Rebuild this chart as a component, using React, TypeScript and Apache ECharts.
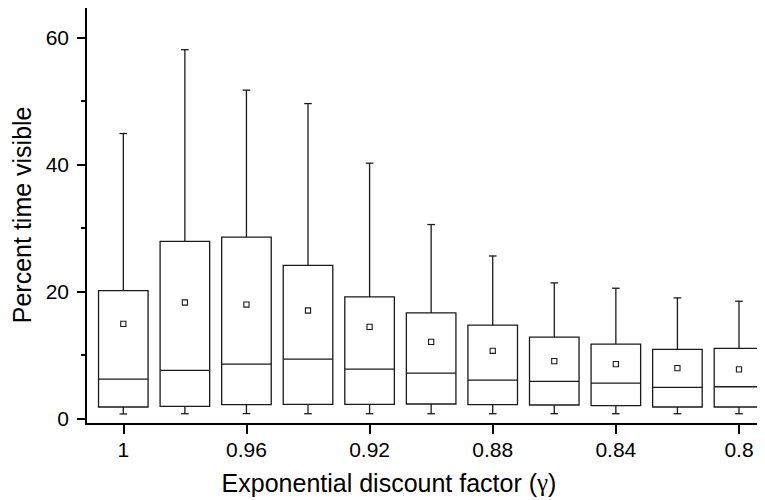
import React, { useEffect, useRef } from "react";
import * as echarts from "echarts";

// Exponential discount factor for each box
const gammas = [1, 0.98, 0.96, 0.94, 0.92, 0.9, 0.88, 0.86, 0.84, 0.82, 0.8];
// Percent time visible: five-number summary plus mean
const whiskerLow = [0.68, 0.72, 0.74, 0.72, 0.72, 0.72, 0.72, 0.72, 0.72, 0.72, 0.72];
const q1 = [1.78, 1.88, 2.14, 2.2, 2.2, 2.25, 2.14, 2.09, 1.98, 1.78, 1.78];
const median = [6.18, 7.55, 8.54, 9.32, 7.75, 7.12, 6.02, 5.81, 5.55, 4.87, 4.97];
const q3 = [20.1, 27.88, 28.55, 24.1, 19.12, 16.6, 14.67, 12.78, 11.68, 10.85, 11.0];
const whiskerHigh = [44.86, 58.07, 51.7, 49.58, 40.19, 30.52, 25.57, 21.33, 20.49, 18.97, 18.44];
const mean = [14.87, 18.24, 17.92, 16.98, 14.4, 12.04, 10.63, 9.0, 8.54, 7.91, 7.7];

const xTickValues = [1, 0.96, 0.92, 0.88, 0.84, 0.8];
const yLabelValues = [0, 20, 40, 60];
const yMinorValues = [10, 30, 50];

const FONT = "'Liberation Sans', Arial, sans-serif";
const BOX_WIDTH = 0.0161; // in gamma units
const LINE = "#1a1a1a";

export default function App() {
  const ref = useRef<HTMLDivElement>(null);

  useEffect(() => {
    if (!ref.current) return;
    const chart = echarts.init(ref.current, null, { renderer: "svg" });

    const data = gammas.map((g, i) => [g, whiskerLow[i], q1[i], median[i], q3[i], whiskerHigh[i], mean[i]]);

    const yBase = {
      type: "value",
      min: -0.9,
      max: 65,
      position: "left",
      splitLine: { show: false },
    };

    chart.setOption({
      animation: false,
      backgroundColor: "#ffffff",
      grid: { left: 86, right: 0, top: 5.7, bottom: 75, containLabel: false },
      xAxis: {
        type: "value",
        inverse: true,
        min: 0.79155,
        max: 1.01212,
        splitLine: { show: false },
        axisLine: { show: true, onZero: false, lineStyle: { color: "#000", width: 2 } },
        axisTick: { show: true, customValues: xTickValues, length: 10, lineStyle: { color: "#000", width: 2 } },
        axisLabel: {
          customValues: xTickValues,
          margin: 15,
          fontSize: 21,
          fontFamily: FONT,
          color: "#000",
          formatter: (v: number) => String(+v.toFixed(2)),
        },
        name: "Exponential discount factor ({g|γ})",
        nameLocation: "middle",
        nameGap: 46,
        nameTextStyle: {
          fontSize: 25,
          fontFamily: FONT,
          color: "#000",
          padding: [0, 73, 0, 0],
          rich: { g: { fontSize: 25, fontFamily: "'Liberation Serif', 'Times New Roman', serif", color: "#000" } },
        },
      },
      yAxis: [
        {
          ...yBase,
          axisLine: { show: true, onZero: false, lineStyle: { color: "#000", width: 2 } },
          axisTick: { show: true, customValues: yLabelValues, length: 9, lineStyle: { color: "#000", width: 2 } },
          axisLabel: {
            customValues: yLabelValues,
            margin: 17,
            fontSize: 21,
            fontFamily: FONT,
            color: "#000",
          },
          name: "Percent time visible",
          nameLocation: "middle",
          nameGap: 50,
          nameTextStyle: { fontSize: 25, fontFamily: FONT, color: "#000" },
        },
        {
          ...yBase,
          axisLine: { show: false },
          axisTick: { show: true, customValues: yMinorValues, length: 5, lineStyle: { color: "#000", width: 2 } },
          axisLabel: { show: false },
        },
      ],
      series: [
        {
          type: "custom",
          xAxisIndex: 0,
          yAxisIndex: 0,
          data,
          renderItem: (_params: any, api: any) => {
            const g = api.value(0);
            const pLo = api.coord([g, api.value(1)]);
            const pQ1 = api.coord([g, api.value(2)]);
            const pMed = api.coord([g, api.value(3)]);
            const pQ3 = api.coord([g, api.value(4)]);
            const pHi = api.coord([g, api.value(5)]);
            const pMean = api.coord([g, api.value(6)]);
            const w = Math.abs(api.size([BOX_WIDTH, 0])[0]);
            const cx = pMed[0];
            const half = w / 2;
            const cap = 3.8;
            const lineStyle = { stroke: LINE, lineWidth: 1.3, fill: "none" };
            return {
              type: "group",
              children: [
                { type: "line", shape: { x1: cx, y1: pQ3[1], x2: cx, y2: pHi[1] }, style: lineStyle },
                { type: "line", shape: { x1: cx - cap, y1: pHi[1], x2: cx + cap, y2: pHi[1] }, style: lineStyle },
                { type: "line", shape: { x1: cx, y1: pQ1[1], x2: cx, y2: pLo[1] }, style: lineStyle },
                { type: "line", shape: { x1: cx - cap, y1: pLo[1], x2: cx + cap, y2: pLo[1] }, style: lineStyle },
                {
                  type: "rect",
                  shape: { x: cx - half, y: pQ3[1], width: w, height: pQ1[1] - pQ3[1] },
                  style: { stroke: LINE, lineWidth: 1.3, fill: "#ffffff" },
                },
                { type: "line", shape: { x1: cx - half, y1: pMed[1], x2: cx + half, y2: pMed[1] }, style: lineStyle },
                {
                  type: "rect",
                  shape: { x: pMean[0] - 2.6, y: pMean[1] - 2.6, width: 5.2, height: 5.2 },
                  style: { stroke: LINE, lineWidth: 1.1, fill: "#ffffff" },
                },
              ],
            };
          },
        },
      ],
    });

    return () => chart.dispose();
  }, []);

  return <div ref={ref} style={{ width: 765, height: 500, marginLeft: -8, marginTop: -8 }} />;
}
